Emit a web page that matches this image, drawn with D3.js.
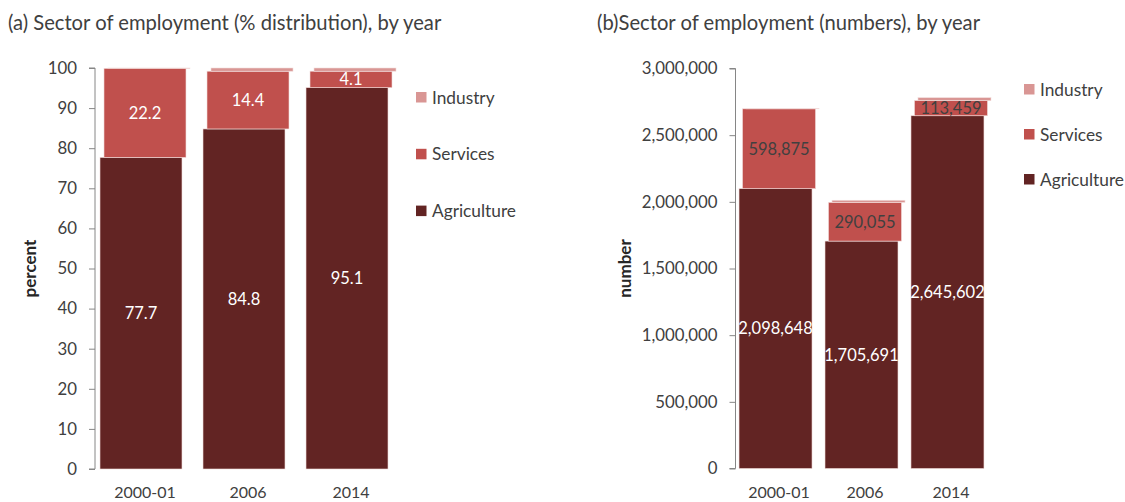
<!DOCTYPE html>
<html>
<head>
<meta charset="utf-8">
<script src="https://cdn.jsdelivr.net/npm/d3@7"></script>
<style>
  html, body { margin: 0; padding: 0; background: #fff; }
  svg { display: block; font-family: Lato, "Open Sans", sans-serif; }
</style>
</head>
<body>
<svg id="chart" width="1125" height="502"></svg>
<script>
// Employment by sector, three survey years
const years = ["2000-01", "2006", "2014"];
const sectors = ["Agriculture", "Services", "Industry"];

// (a) percentage distribution
const pctAgriculture = [77.7, 84.8, 95.1];
const pctServices = [22.2, 14.4, 4.1];
const pctIndustry = [0.1, 0.8, 0.8];

// (b) number employed
const numAgriculture = [2098648, 1705691, 2645602];
const numServices = [598875, 290055, 113459];
const numIndustry = [2700, 16000, 22000];

const pctTicks = [0, 10, 20, 30, 40, 50, 60, 70, 80, 90, 100];
const numTicks = [0, 500000, 1000000, 1500000, 2000000, 2500000, 3000000];

const colors = { Agriculture: "#622423", Services: "#C0504D", Industry: "#D99694" };
const textDark = "#404040";

const svg = d3.select("#chart");

function rows(a, s, i) {
  return years.map((y, k) => ({ year: y, Agriculture: a[k], Services: s[k], Industry: i[k] }));
}

function panel(opt) {
  const g = svg.append("g");
  const y = d3.scaleLinear().domain([0, opt.max]).range([opt.y0, opt.y1]);
  const x = d3.scaleBand().domain(years).range(opt.xRange)
    .paddingInner(opt.padIn).paddingOuter(opt.padOut);
  // each series is drawn slightly shifted to the right, giving the stepped look
  const shift = d3.scalePoint().domain(sectors).range([0, opt.shift * 2]);

  const stacked = d3.stack().keys(sectors)(opt.data);

  // title
  g.append("text").attr("x", opt.titleX).attr("y", 30)
    .attr("font-size", 20.2).attr("fill", textDark).text(opt.title);

  // y axis
  const axis = g.append("g").attr("transform", `translate(${opt.axisX},0)`)
    .call(d3.axisLeft(y).tickValues(opt.ticks).tickSize(6).tickPadding(12)
      .tickFormat(opt.fmt));
  axis.select(".domain").attr("stroke", "#868686").attr("d", `M-6,${opt.y0}H0V${opt.y1}H-6`);
  axis.selectAll(".tick line").attr("stroke", "#868686");
  axis.selectAll(".tick text").attr("font-size", 16.8).attr("fill", textDark)
    .attr("font-family", "Lato, sans-serif");

  // y axis title
  g.append("text")
    .attr("transform", `translate(${opt.yTitleX},${(opt.y0 + opt.y1) / 2}) rotate(-90)`)
    .attr("text-anchor", "middle").attr("font-size", 17).attr("font-weight", "bold")
    .attr("fill", "#262626").text(opt.yTitle);

  // bars
  stacked.forEach(layer => {
    g.append("g").selectAll("rect").data(layer).join("rect")
      .attr("x", d => x(d.data.year) + shift(layer.key))
      .attr("y", d => y(d[1]))
      .attr("width", x.bandwidth())
      .attr("height", d => Math.max(0, y(d[0]) - y(d[1])))
      .attr("fill", colors[layer.key])
      .attr("stroke", "#f2dcdb").attr("stroke-width", 0.6);
  });

  // value labels for agriculture and services
  stacked.filter(l => l.key !== "Industry").forEach(layer => {
    g.append("g").selectAll("text").data(layer).join("text")
      .attr("x", d => x(d.data.year) + shift(layer.key) + x.bandwidth() / 2)
      .attr("y", d => (y(d[0]) + y(d[1])) / 2)
      .attr("dy", "0.35em").attr("text-anchor", "middle")
      .attr("font-size", 16.5)
      .attr("fill", layer.key === "Agriculture" ? "#fff" : opt.servicesLabel)
      .text(d => opt.fmt(d[1] - d[0]));
  });

  // category labels
  g.append("g").selectAll("text").data(years).join("text")
    .attr("x", d => x(d) + x.bandwidth() / 2 + opt.shift)
    .attr("y", 498).attr("text-anchor", "middle")
    .attr("font-size", 16).attr("fill", textDark).text(d => d);

  // legend, top entry first
  const legendOrder = sectors.slice().reverse();
  const lg = g.append("g").selectAll("g").data(legendOrder).join("g")
    .attr("transform", (d, i) => `translate(${opt.legendX},${opt.legendY + i * opt.legendStep})`);
  lg.append("rect").attr("x", 0).attr("y", -5.5).attr("width", 10.5).attr("height", 10.5)
    .attr("fill", d => colors[d]);
  lg.append("text").attr("x", 16).attr("dy", "0.35em").attr("font-size", 17.3)
    .attr("fill", textDark).text(d => d);
}

panel({
  data: rows(pctAgriculture, pctServices, pctIndustry),
  max: 100, y0: 469, y1: 68,
  ticks: pctTicks, fmt: d3.format(".1~f"),
  axisX: 95, xRange: [95, 393], padIn: 0.204, padOut: 0.0485, shift: 4,
  title: "(a) Sector of employment (% distribution), by year", titleX: 8,
  yTitle: "percent", yTitleX: 36,
  servicesLabel: "#fff",
  legendX: 416, legendY: 97.5, legendStep: 56.8
});

panel({
  data: rows(numAgriculture, numServices, numIndustry),
  max: 3000000, y0: 468.5, y1: 68.5,
  ticks: numTicks, fmt: d3.format(","),
  axisX: 735.5, xRange: [735.5, 987.5], padIn: 0.151, padOut: 0.041, shift: 3.5,
  title: "(b)Sector of employment (numbers), by year", titleX: 597,
  yTitle: "number", yTitleX: 631,
  servicesLabel: textDark,
  legendX: 1024, legendY: 89.5, legendStep: 45
});
</script>
</body>
</html>
